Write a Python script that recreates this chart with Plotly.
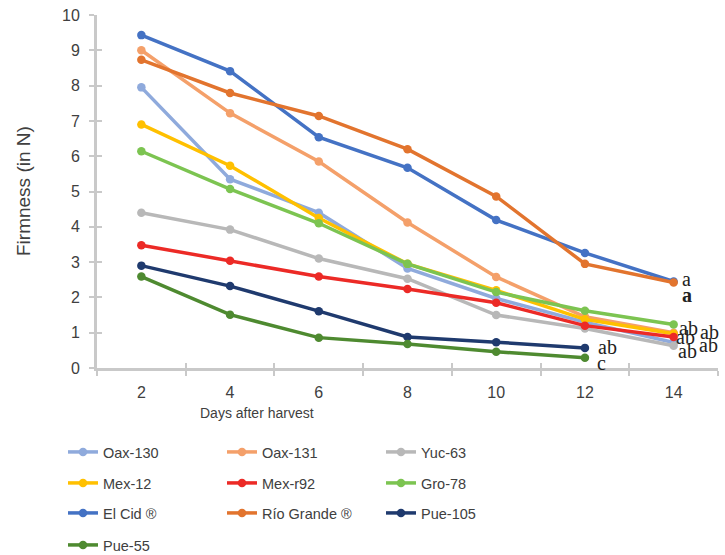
import plotly.graph_objects as go

days = ["2", "4", "6", "8", "10", "12", "14"]

names = ["Oax-130", "Oax-131", "Yuc-63", "Mex-12", "Mex-r92", "Gro-78",
         "El Cid ®", "Río Grande ®", "Pue-105", "Pue-55"]

oax130 = [7.95, 5.35, 4.40, 2.82, 1.97, 1.30, 0.72]
oax131 = [9.00, 7.22, 5.85, 4.12, 2.58, 1.45, 1.00]
yuc63 = [4.40, 3.92, 3.10, 2.53, 1.50, 1.12, 0.63]
mex12 = [6.90, 5.73, 4.25, 2.95, 2.20, 1.38, 0.97]
mexr92 = [3.48, 3.04, 2.59, 2.24, 1.85, 1.20, 0.88]
gro78 = [6.14, 5.07, 4.10, 2.95, 2.15, 1.62, 1.23]
elcid = [9.43, 8.41, 6.54, 5.67, 4.19, 3.26, 2.45]
riogrande = [8.73, 7.79, 7.14, 6.20, 4.86, 2.95, 2.42]
pue105 = [2.90, 2.32, 1.61, 0.88, 0.73, 0.57]
pue55 = [2.59, 1.51, 0.86, 0.68, 0.46, 0.29]

series = [oax130, oax131, yuc63, mex12, mexr92, gro78, elcid, riogrande, pue105, pue55]

colors = ["#8FAADC", "#F4A06A", "#B8B8B8", "#FFC000", "#EC2A26", "#7CC451",
          "#4472C4", "#E2742E", "#1F3A6E", "#4E8A30"]

# letter labels: (series index, day index, text, bold)
letters = [(6, 6, "a", False), (7, 6, "a", True), (5, 6, "ab", False),
           (1, 6, "ab", False), (4, 6, "ab", False), (2, 6, "ab", False),
           (0, 6, "ab", False), (8, 5, "ab", False), (9, 5, "c", False)]
letter_shift = [(13, 3), (13, -12), (15, -3), (36, 1), (12, 0), (14, -5),
                (35, -2), (23, 1), (17, -5)]

legend_of = ["legend", "legend", "legend", "legend2", "legend2", "legend2",
             "legend3", "legend3", "legend3", "legend4"]

fig = go.Figure()
for nm, vals, col, lg in zip(names, series, colors, legend_of):
    fig.add_trace(go.Scatter(
        x=days[:len(vals)], y=vals, name=nm, mode="lines+markers",
        line=dict(color=col, width=3.5), marker=dict(color=col, size=8.5),
        legend=lg,
    ))

# overlay trace to host the inner tick marks
fig.add_trace(go.Scatter(x=[], y=[], xaxis="x2", yaxis="y2", showlegend=False,
                         hoverinfo="skip"))

axcol = "#C9C9C9"
sans = "Liberation Sans, Arial, sans-serif"
txtcol = "#404040"
tickfont = dict(family=sans, size=16, color=txtcol)

L, R, T, B = 97, 7, 15, 187
W, H = 725, 555
pw, ph = W - L - R, H - T - B

ann = []
for (si, di, txt, bold), (dx, dy) in zip(letters, letter_shift):
    ann.append(dict(
        x=di, y=series[si][di], xref="x", yref="y",
        text=("<b>%s</b>" % txt) if bold else txt, showarrow=False,
        xshift=dx, yshift=dy, xanchor="center", yanchor="middle",
        font=dict(family="Liberation Serif, Times New Roman, serif", size=20, color="#222222"),
    ))

ann.append(dict(text="Days after harvest", x=(257 - L) / pw, y=(H - B - 413) / ph,
                xref="paper", yref="paper", showarrow=False,
                xanchor="center", yanchor="middle",
                font=dict(family=sans, size=14, color=txtcol)))
ann.append(dict(text="Firmness (in N)", x=(23 - L) / pw, y=(H - B - 191) / ph,
                xref="paper", yref="paper", showarrow=False, textangle=-90,
                xanchor="center", yanchor="middle",
                font=dict(family=sans, size=19, color=txtcol)))

legfont = dict(family=sans, size=14.5, color=txtcol)
leg_rows = [452, 483, 513, 545]
leg_x = (63 - L) / pw
legends = {}
for key, py in zip(["legend", "legend2", "legend3", "legend4"], leg_rows):
    legends[key] = dict(orientation="h", x=leg_x, xanchor="left",
                        y=(H - B - py) / ph, yanchor="middle",
                        entrywidth=114, entrywidthmode="pixels",
                        font=legfont, bgcolor="rgba(0,0,0,0)", itemclick=False)

fig.update_layout(
    width=W, height=H,
    margin=dict(l=L, r=R, t=T, b=B, autoexpand=False),
    plot_bgcolor="white", paper_bgcolor="white",
    showlegend=True,
    annotations=ann,
    xaxis=dict(type="category", categoryorder="array", categoryarray=days,
               range=[-0.5, 6.5], tickson="boundaries", ticks="outside", ticklen=5,
               tickwidth=2, tickcolor=axcol, showline=True, linecolor=axcol, linewidth=3,
               showgrid=False, zeroline=False, tickfont=tickfont, ticklabelstandoff=8),
    yaxis=dict(range=[0, 10], dtick=1, ticks="outside", ticklen=5, tickwidth=2,
               tickcolor=axcol, showline=True, linecolor=axcol, linewidth=3,
               showgrid=False, zeroline=False, tickfont=tickfont, ticklabelstandoff=6),
    xaxis2=dict(overlaying="x", range=[-0.5, 6.5], tick0=-0.5, dtick=1, ticks="inside",
                ticklen=5, tickwidth=2, tickcolor=axcol, showticklabels=False,
                showgrid=False, zeroline=False, showline=False, anchor="y2", side="bottom"),
    yaxis2=dict(overlaying="y", range=[0, 10], dtick=1, ticks="inside", ticklen=5,
                tickwidth=2, tickcolor=axcol, showticklabels=False, showgrid=False,
                zeroline=False, showline=False, anchor="x2", side="left"),
    **legends,
)

fig.write_html("out.html", config={"displayModeBar": False},
               post_script="document.body.style.margin='0';")
